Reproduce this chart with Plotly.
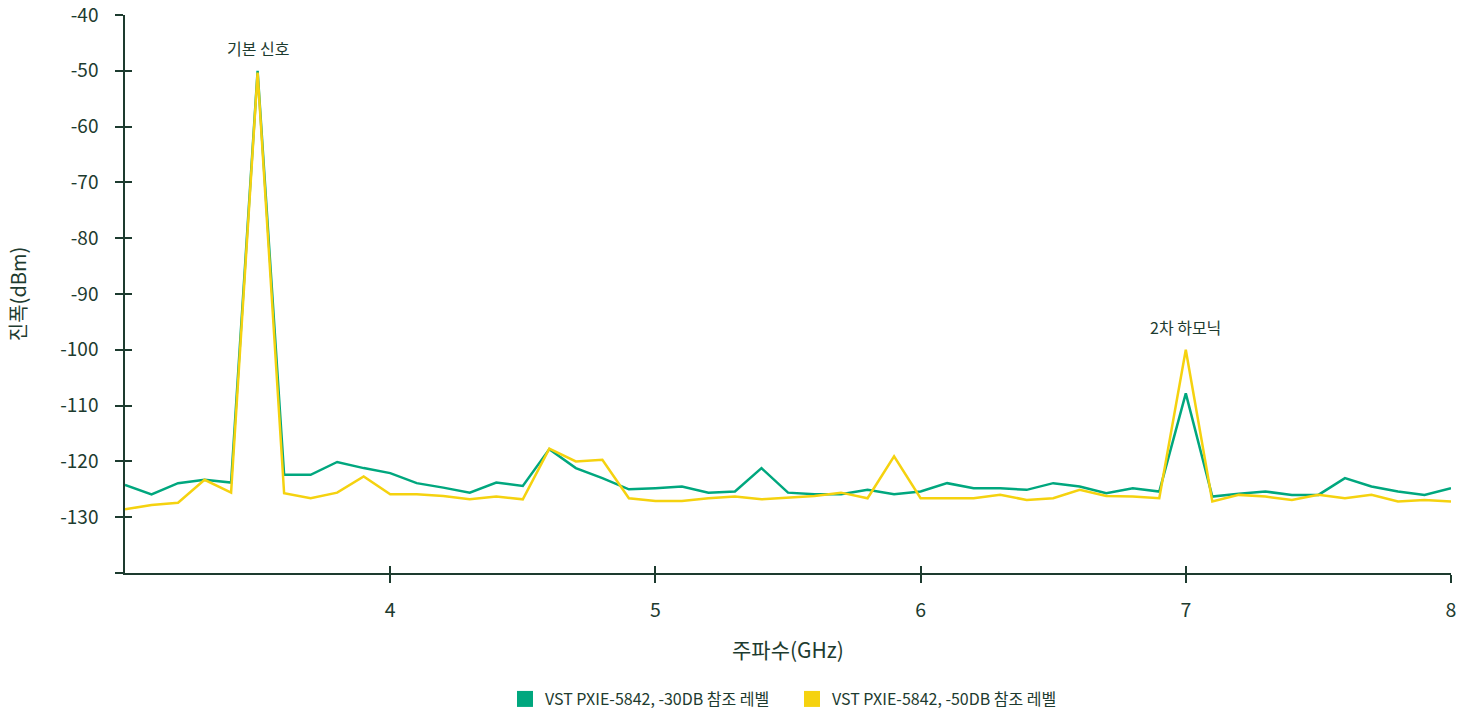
import plotly.graph_objects as go

freq_ghz = [3.0, 3.1, 3.2, 3.3, 3.4, 3.5, 3.6, 3.7, 3.8, 3.9,
            4.0, 4.1, 4.2, 4.3, 4.4, 4.5, 4.6, 4.7, 4.8, 4.9,
            5.0, 5.1, 5.2, 5.3, 5.4, 5.5, 5.6, 5.7, 5.8, 5.9,
            6.0, 6.1, 6.2, 6.3, 6.4, 6.5, 6.6, 6.7, 6.8, 6.9,
            7.0, 7.1, 7.2, 7.3, 7.4, 7.5, 7.6, 7.7, 7.8, 7.9, 8.0]

ref_30db = [-124.2, -125.9, -123.9, -123.3, -123.8, -50.0, -122.4, -122.4, -120.1, -121.2,
            -122.1, -123.9, -124.7, -125.6, -123.8, -124.4, -117.8, -121.2, -123.0, -125.0,
            -124.8, -124.5, -125.6, -125.4, -121.2, -125.6, -125.9, -125.9, -125.1, -125.9,
            -125.4, -123.9, -124.8, -124.8, -125.1, -123.9, -124.5, -125.7, -124.8, -125.4,
            -107.8, -126.3, -125.8, -125.4, -126.0, -126.0, -123.0, -124.5, -125.4, -126.0, -124.8]

ref_50db = [-128.6, -127.8, -127.4, -123.3, -125.6, -50.3, -125.7, -126.6, -125.6, -122.7,
            -125.9, -125.9, -126.2, -126.8, -126.3, -126.8, -117.7, -120.0, -119.7, -126.6,
            -127.1, -127.1, -126.6, -126.3, -126.8, -126.5, -126.2, -125.6, -126.6, -119.1,
            -126.6, -126.6, -126.6, -126.0, -126.9, -126.6, -125.1, -126.2, -126.3, -126.6,
            -100.0, -127.2, -126.0, -126.3, -126.9, -126.0, -126.6, -126.0, -127.2, -126.9, -127.2]

series_names = ["VST PXIE-5842, -30DB 참조 레벨", "VST PXIE-5842, -50DB 참조 레벨"]
series_colors = ["#00a77e", "#f5d20f"]

x_ticks = [4, 5, 6, 7, 8]
y_ticks = [-40, -50, -60, -70, -80, -90, -100, -110, -120, -130]
y_minor = [-140]

annot_text = ["기본 신호", "2차 하모닉"]
annot_x = [3.5, 7.0]
annot_y = [-45.9, -95.9]

TXT = "#1d3b2f"
FONT = "Noto Sans CJK KR"

fig = go.Figure()
for name, vals, col in zip(series_names, [ref_30db, ref_50db], series_colors):
    fig.add_trace(go.Scatter(x=freq_ghz, y=vals, mode="lines", name=name,
                             line=dict(color=col, width=2.5), showlegend=False,
                             hoverinfo="x+y"))
for name, col in zip(series_names, series_colors):
    fig.add_trace(go.Scatter(x=[None], y=[None], mode="markers", name=name,
                             marker=dict(symbol="square", size=16, color=col)))
# invisible trace to anchor overlay axes (for ticks crossing the axis line)
fig.add_trace(go.Scatter(x=[None], y=[None], xaxis="x2", yaxis="y2",
                         showlegend=False, hoverinfo="skip"))

for t, x, y in zip(annot_text, annot_x, annot_y):
    fig.add_annotation(x=x, y=y, text=t, showarrow=False,
                       font=dict(family=FONT, size=16, color=TXT))

axis_common = dict(showgrid=False, zeroline=False, linecolor=TXT, linewidth=1.5,
                   tickcolor=TXT, tickwidth=1.5, automargin=False,
                   ticklabeloverflow="allow")

fig.update_layout(
    width=1471, height=713,
    margin=dict(l=125, r=20, t=15, b=140, autoexpand=False),
    paper_bgcolor="white", plot_bgcolor="white",
    font=dict(family=FONT, color=TXT),
    xaxis=dict(range=[3, 8], tickvals=x_ticks, ticks="outside", ticklen=8,
               showline=True, tickfont=dict(size=19.5, color=TXT),
               ticklabelstandoff=11,
               title=dict(text="주파수(GHz)", font=dict(size=21, color=TXT), standoff=21),
               **axis_common),
    yaxis=dict(range=[-140, -40], tickvals=y_ticks + y_minor,
               ticktext=[str(v) for v in y_ticks] + [""],
               ticks="outside", ticklen=8, showline=True,
               tickfont=dict(size=19, color=TXT), ticklabelstandoff=13,
               title=dict(text="진폭(dBm)", font=dict(size=20, color=TXT), standoff=28),
               **axis_common),
    xaxis2=dict(range=[3, 8], overlaying="x", anchor="y", side="bottom",
                tickvals=x_ticks, ticks="inside", ticklen=7, showticklabels=False,
                showline=False, showgrid=False, zeroline=False,
                tickcolor=TXT, tickwidth=1.5),
    yaxis2=dict(range=[-140, -40], overlaying="y", anchor="x", side="left",
                tickvals=y_ticks + y_minor, ticks="inside", ticklen=7,
                showticklabels=False, showline=False, showgrid=False, zeroline=False,
                tickcolor=TXT, tickwidth=1.5),
    legend=dict(orientation="h", x=0.503, xanchor="center",
                yref="container", y=0.0196, yanchor="middle",
                font=dict(family=FONT, size=16, color=TXT), itemwidth=30,
                entrywidth=242, traceorder="normal"),
    showlegend=True,
)

fig.write_html("out.html")
